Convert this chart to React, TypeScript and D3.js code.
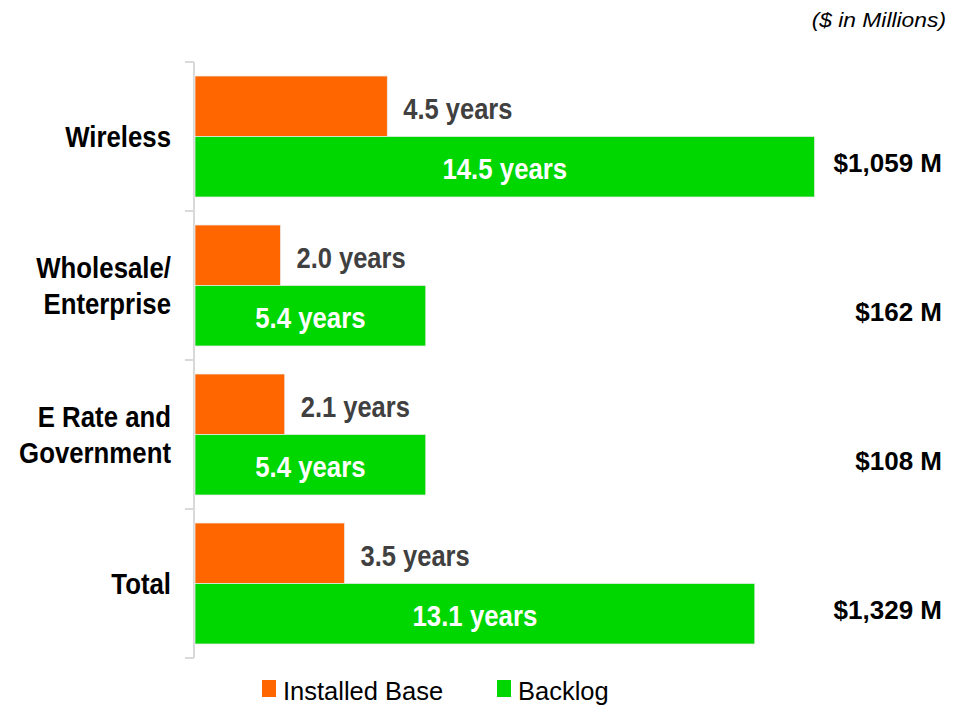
import * as d3 from 'd3';
import { useRef, useEffect } from 'react';

const categories = ['Wireless', 'Wholesale/\nEnterprise', 'E Rate and\nGovernment', 'Total'];
const installedBase = [4.5, 2.0, 2.1, 3.5];
const backlog = [14.5, 5.4, 5.4, 13.1];
const totals = ['$1,059 M', '$162 M', '$108 M', '$1,329 M'];
const seriesNames = ['Installed Base', 'Backlog'];
const colors = ['#FF6600', '#00D600'];

const WIDTH = 967;
const HEIGHT = 707;
const SANS = "'Liberation Sans', Arial, sans-serif";

const App = () => {
  const svgRef = useRef();

  useEffect(() => {
    drawChart();
  }, []);

  // text squeezed horizontally to look like Arial Narrow
  const addText = (sel, x, y, sx, opts) =>
    sel
      .append('text')
      .attr('transform', (d) => `translate(${typeof x === 'function' ? x(d) : x},${y}) scale(${sx},1)`)
      .attr('font-family', SANS)
      .attr('font-weight', opts.weight || 'normal')
      .attr('font-style', opts.style || 'normal')
      .attr('font-size', opts.size)
      .attr('fill', opts.fill || '#000')
      .attr('text-anchor', opts.anchor || 'start');

  const drawChart = () => {
    const svg = d3.select(svgRef.current);
    svg.selectAll('*').remove();

    const yScale = d3.scaleBand().domain(categories).range([62, 658]);
    const bw = yScale.bandwidth();
    const inner = d3.scaleBand().domain(seriesNames).range([14, bw - 14]);
    const xScale = d3.scaleLinear().domain([0, 15]).range([195, 836]);
    const mid = (s) => inner(s) + inner.bandwidth() / 2;

    // axis line + category ticks
    const axis = svg.append('g').attr('stroke', '#D9D9D9').attr('stroke-width', 2);
    axis.append('line').attr('x1', 194).attr('x2', 194).attr('y1', 62).attr('y2', 658);
    const ticks = [...categories.map((c) => yScale(c)), 658];
    axis
      .selectAll('line.tick')
      .data(ticks)
      .join('line')
      .attr('class', 'tick')
      .attr('x1', 185)
      .attr('x2', 194)
      .attr('y1', (d) => d)
      .attr('y2', (d) => d);

    const rows = categories.map((c, i) => ({ c, vals: [installedBase[i], backlog[i]], total: totals[i] }));

    const g = svg
      .selectAll('g.cat')
      .data(rows)
      .join('g')
      .attr('class', 'cat')
      .attr('transform', (d) => `translate(0,${yScale(d.c)})`);

    seriesNames.forEach((s, si) => {
      g.append('rect')
        .attr('x', xScale(0))
        .attr('y', inner(s))
        .attr('width', (d) => xScale(d.vals[si]) - xScale(0))
        .attr('height', inner.bandwidth())
        .attr('fill', colors[si])
        .attr('stroke', '#ECECEC')
        .attr('stroke-width', 0.75);
    });

    // installed base labels (outside, grey)
    addText(g, (d) => xScale(d.vals[0]) + 16, mid(seriesNames[0]) + 13, 0.85, {
      weight: 'bold',
      size: 30,
      fill: '#404040',
    }).text((d) => `${d.vals[0].toFixed(1)} years`);

    // backlog labels (inside, white, centred)
    addText(g, (d) => (xScale(0) + xScale(d.vals[1])) / 2, mid(seriesNames[1]) + 12, 0.86, {
      weight: 'bold',
      size: 30,
      fill: '#FFFFFF',
      anchor: 'middle',
    }).text((d) => `${d.vals[1].toFixed(1)} years`);

    // dollar totals
    addText(g, 942, mid(seriesNames[1]) + 5, 1, {
      weight: 'bold',
      size: 26,
      anchor: 'end',
    }).text((d) => d.total);

    // category labels
    g.each(function (d) {
      const lines = d.c.split('\n');
      lines.forEach((l, li) => {
        addText(d3.select(this), 171, bw / 2 + 10 + (li - (lines.length - 1) / 2) * 36, 0.86, {
          weight: 'bold',
          size: 30,
          anchor: 'end',
        }).text(l);
      });
    });

    // units note
    addText(svg, 946, 27, 1.17, { style: 'italic', size: 19.5, anchor: 'end' }).text('($ in Millions)');

    // legend
    const legendX = [262, 497];
    const leg = svg
      .selectAll('g.legend')
      .data(seriesNames)
      .join('g')
      .attr('class', 'legend')
      .attr('transform', (d, i) => `translate(${legendX[i]},680)`);
    leg.append('rect').attr('width', 14).attr('height', 17).attr('fill', (d, i) => colors[i]);
    addText(leg, 21, 20, 1.0, { size: 25.5 }).text((d) => d);
  };

  return <svg ref={svgRef} width={WIDTH} height={HEIGHT} style={{ position: 'absolute', left: 0, top: 0 }} />;
};

export default App;
